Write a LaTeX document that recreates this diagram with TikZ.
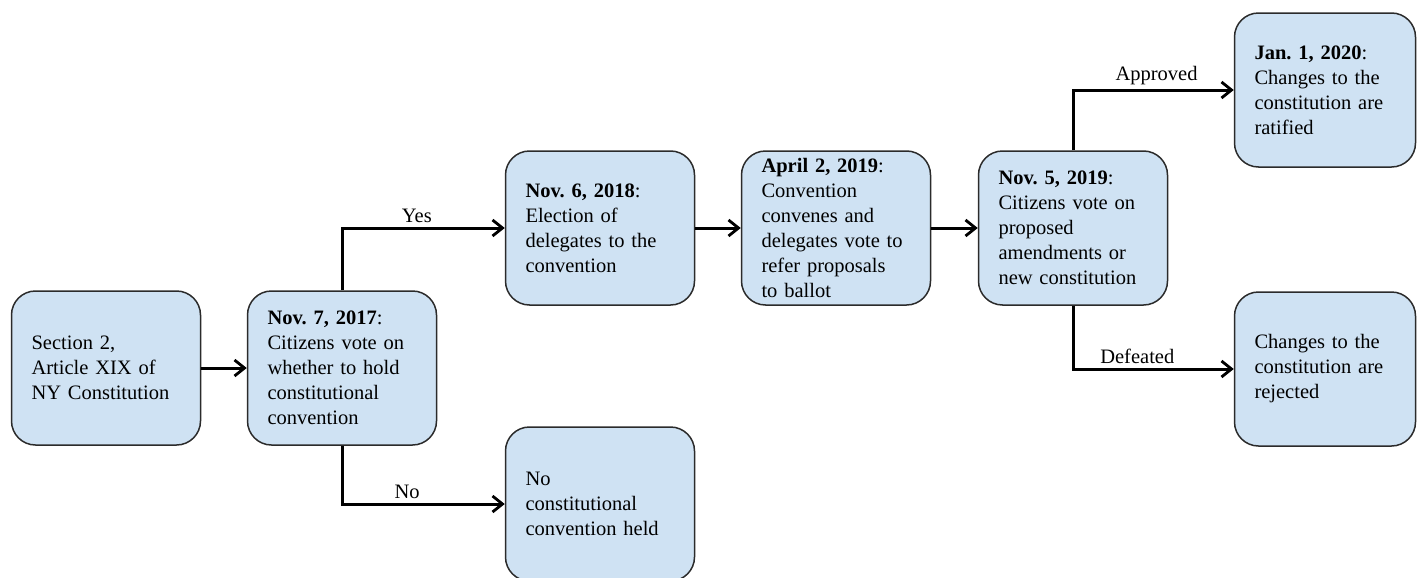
\documentclass[tikz,border=0pt]{standalone}
\usepackage{fontspec}
\setmainfont{Liberation Serif}
\usepackage{tikz}
\usetikzlibrary{arrows.meta,positioning}
\definecolor{boxfill}{HTML}{CFE2F3}
\definecolor{boxline}{HTML}{2B2B2B}
\frenchspacing

\begin{document}
\begin{tikzpicture}[>={Straight Barb[length=10bp,width=16bp,line width=2.8bp]},
	font=\fontsize{20.5bp}{25bp}\selectfont,
	stagebox/.style={draw=boxline,line width=1.5bp,fill=boxfill,rounded corners=24bp,
		minimum width=189bp,minimum height=154bp,text width=149bp,inner xsep=20bp,align=left},
	endbox/.style={stagebox,minimum width=181bp,text width=141bp},
	flow/.style={->,line width=3bp,black}]
	\useasboundingbox (0bp,0bp) rectangle (1417bp,-578bp);

	\node[stagebox] (sec)    at (106bp,-368bp)  {Section 2,\\Article XIX of\\NY Constitution};
	\node[stagebox] (vote17) at (342bp,-368bp)  {\textbf{Nov. 7, 2017}:\\Citizens vote on\\whether to hold\\constitutional\\convention};
	\node[stagebox] (elect18) at (600bp,-228bp) {\textbf{Nov. 6, 2018}:\\Election of\\delegates to the\\convention};
	\node[stagebox] (conv19) at (836bp,-228bp)  {\textbf{April 2, 2019}:\\Convention\\convenes and\\delegates vote to\\refer proposals\\to ballot};
	\node[stagebox] (vote19) at (1073bp,-228bp) {\textbf{Nov. 5, 2019}:\\Citizens vote on\\proposed\\amendments or\\new constitution};
	\node[endbox]   (ratify) at (1325bp,-90bp)  {\textbf{Jan. 1, 2020}:\\Changes to the\\constitution are\\ratified};
	\node[endbox]   (reject) at (1325bp,-369bp) {Changes to the\\constitution are\\rejected};
	\node[stagebox] (nocon)  at (600bp,-504bp)  {No\\constitutional\\convention held};

	\draw [flow] (sec) to (vote17);
	\draw [flow] (vote17.north) |- node[pos=0.73,above] {Yes} (elect18.west);
	\draw [flow] (vote17.south) |- node[pos=0.7,above] {No} (nocon.west);
	\draw [flow] (elect18) to (conv19);
	\draw [flow] (conv19) to (vote19);
	\draw [flow] (vote19.north) |- node[pos=0.76,above] {Approved} (ratify.west);
	\draw [flow] (vote19.south) |- node[pos=0.7,above] {Defeated} (reject.west);
\end{tikzpicture}
\end{document}
